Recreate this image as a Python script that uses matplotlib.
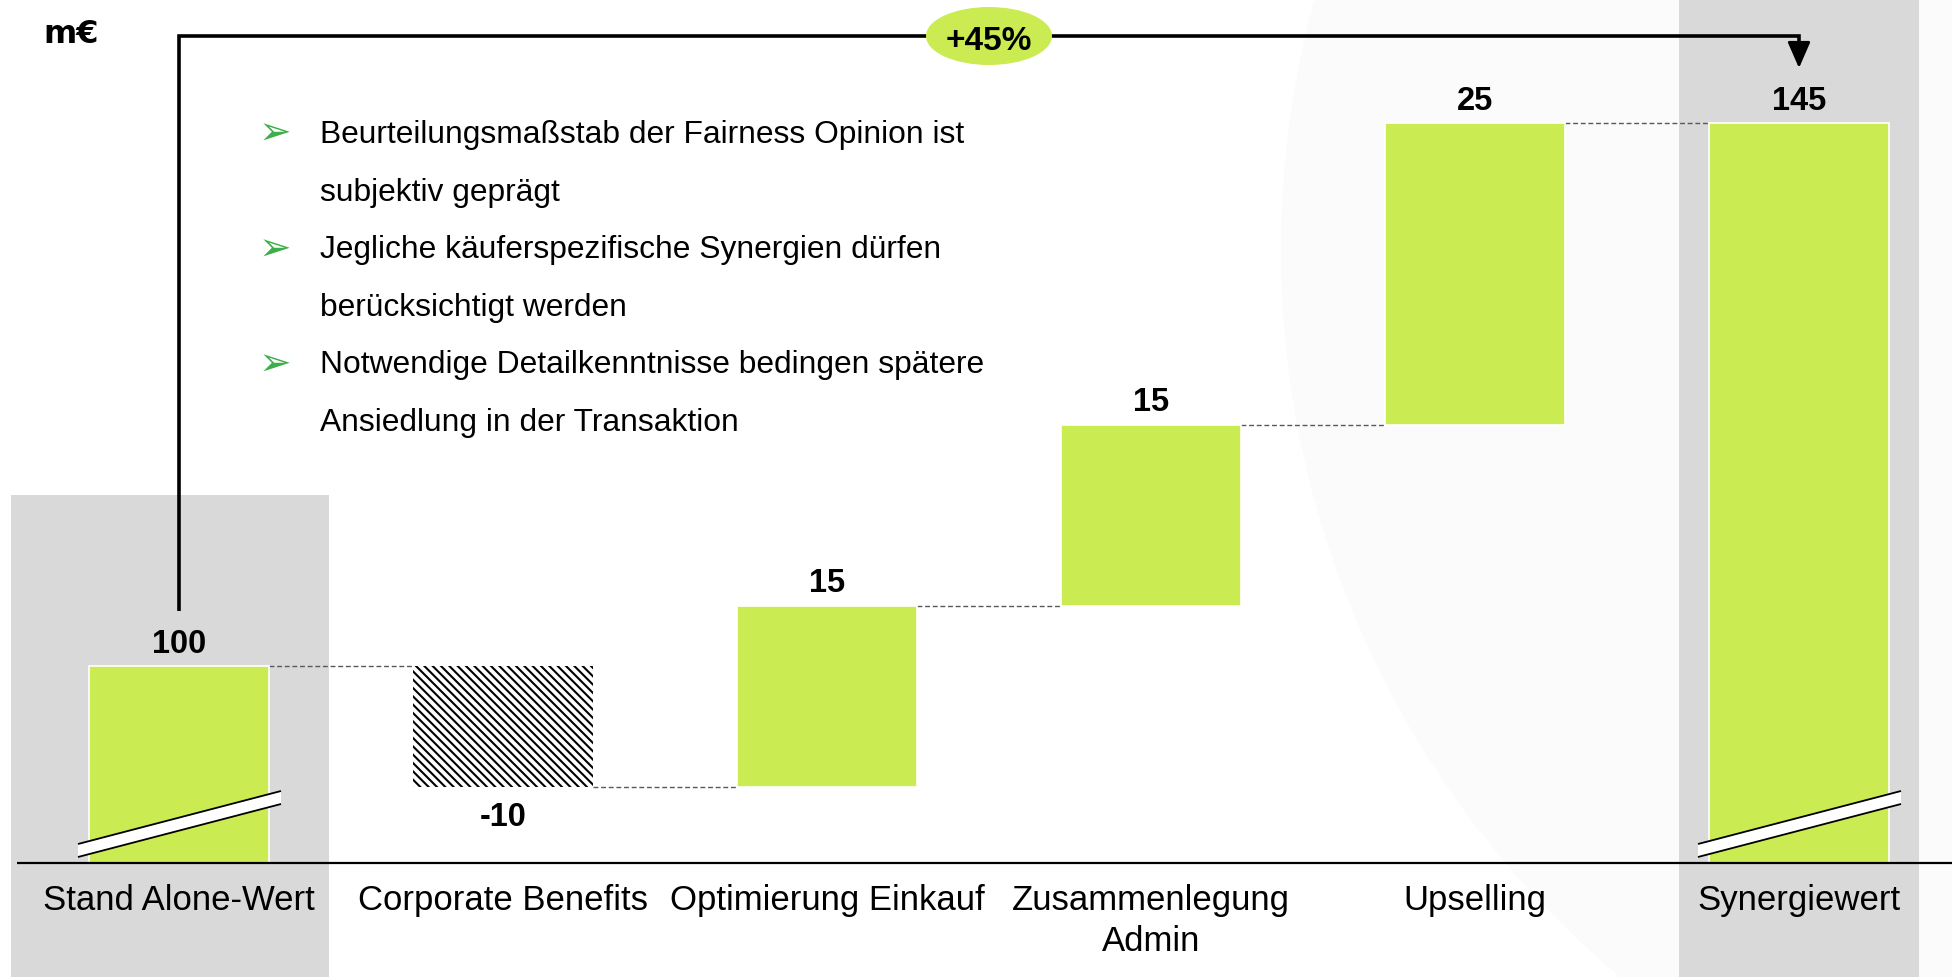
import matplotlib
matplotlib.use("Agg")
import matplotlib.pyplot as plt
from matplotlib.patches import Ellipse, Polygon, Rectangle
from matplotlib import font_manager

# ---------------- data ----------------
categories = ["Stand Alone-Wert", "Corporate Benefits", "Optimierung Einkauf",
              "Zusammenlegung\nAdmin", "Upselling", "Synergiewert"]
values = [100, -10, 15, 15, 25, 145]
is_total = [True, False, False, False, False, True]
value_labels = ["100", "-10", "15", "15", "25", "145"]
growth_label = "+45%"
unit_label = "m€"
bullets = [
    ["Beurteilungsmaßstab der Fairness Opinion ist", "subjektiv geprägt"],
    ["Jegliche käuferspezifische Synergien dürfen", "berücksichtigt werden"],
    ["Notwendige Detailkenntnisse bedingen spätere", "Ansiedlung in der Transaktion"],
]

# ---------------- style / layout ----------------
W, H = 1952, 977
GREEN = "#CBEB52"
GRAY = "#D9D9D9"
BULLET_GREEN = "#3DAE49"
PX_PER_CAT = 324.0
X_CENTER0 = 179.0
PX_PER_UNIT = 12.067
REF_VAL, REF_PX = 100.0, 666.0
BASE_PX = 863.0
BAR_W = 180 / PX_PER_CAT

names = {f.name for f in font_manager.fontManager.ttflist}
MAIN = "Liberation Sans" if "Liberation Sans" in names else "DejaVu Sans"

plt.rcParams["hatch.linewidth"] = 1.5

fig = plt.figure(figsize=(W / 100, H / 100), dpi=100)
fig.patch.set_facecolor("white")
ax = fig.add_axes([0, 0, 1, 1])
x0 = -X_CENTER0 / PX_PER_CAT
x1 = (W - X_CENTER0) / PX_PER_CAT
y1 = REF_VAL + REF_PX / PX_PER_UNIT
y0 = y1 - H / PX_PER_UNIT
ax.set_xlim(x0, x1)
ax.set_ylim(y0, y1)
ax.axis("off")


def px2x(px):
    return x0 + px / PX_PER_CAT


def px2y(py):
    return y1 - py / PX_PER_UNIT


dx = 1 / PX_PER_CAT
dy = 1 / PX_PER_UNIT
base = px2y(BASE_PX)

# faint background circle
ax.add_patch(Ellipse((px2x(2230), px2y(250)), 2 * 949 * dx, 2 * 949 * dy,
                     facecolor="#FBFBFB", edgecolor="none", zorder=0))

# highlight columns
ax.add_patch(Rectangle((px2x(11), y0), 318 * dx, px2y(495) - y0,
                       facecolor=GRAY, edgecolor="none", zorder=1))
ax.add_patch(Rectangle((px2x(1679), y0), 240 * dx, y1 - y0,
                       facecolor=GRAY, edgecolor="none", zorder=1))

# waterfall
bottoms, tops, levels = [], [], []
running = 0
for v, tot in zip(values, is_total):
    if tot:
        bottoms.append(base)
        tops.append(v)
        running = v
    else:
        b, t = sorted([running, running + v])
        bottoms.append(b)
        tops.append(t)
        running += v
    levels.append(running)

xs = list(range(len(categories)))
for i in xs:
    h = tops[i] - bottoms[i]
    if values[i] < 0 and not is_total[i]:
        ax.bar(i, h, bottom=bottoms[i], width=BAR_W, facecolor="white",
               edgecolor="black", linewidth=0, hatch="\\\\\\\\", zorder=3)
    else:
        ax.bar(i, h, bottom=bottoms[i], width=BAR_W, color=GREEN,
               edgecolor="white", linewidth=1.2, zorder=3)

# dashed connectors
for i in range(len(xs) - 1):
    lvl = levels[i]
    ax.plot([i + BAR_W / 2, i + 1 - BAR_W / 2], [lvl, lvl], color="#595959",
            linewidth=1.0, linestyle=(0, (3.5, 2)), zorder=2)

# value labels
for i in xs:
    if values[i] < 0 and not is_total[i]:
        ax.annotate(value_labels[i], (i, bottoms[i]), xytext=(0, -28),
                    textcoords="offset points", ha="center", va="baseline",
                    fontsize=23.5, fontweight="bold", family=MAIN, zorder=5)
    else:
        ax.annotate(value_labels[i], (i, tops[i]), xytext=(0, 9.7),
                    textcoords="offset points", ha="center", va="baseline",
                    fontsize=23.5, fontweight="bold", family=MAIN, zorder=5)

# axis break marks on total bars
for i in xs:
    if is_total[i]:
        pts = [(i - 101 * dx, base + 6 * dy), (i + 102 * dx, base + 59 * dy),
               (i + 102 * dx, base + 72 * dy), (i - 101 * dx, base + 19 * dy)]
        ax.add_patch(Polygon(pts, closed=True, facecolor="white",
                             edgecolor="none", zorder=4))
        ax.plot([pts[0][0], pts[1][0]], [pts[0][1], pts[1][1]], color="black",
                lw=1.3, zorder=4.5, solid_capstyle="butt")
        ax.plot([pts[3][0], pts[2][0]], [pts[3][1], pts[2][1]], color="black",
                lw=1.3, zorder=4.5, solid_capstyle="butt")

# baseline
ax.plot([px2x(17), x1], [base, base], color="black", lw=1.6, zorder=5,
        solid_capstyle="butt")

# category labels
for i, lab in enumerate(categories):
    for k, line in enumerate(lab.split("\n")):
        ax.text(i, px2y(910 + 41 * k), line, ha="center", va="baseline",
                fontsize=25, family=MAIN, color="black", zorder=6)

# growth bracket
top_y = px2y(36)
ax.plot([0, 0, 5, 5], [px2y(611), top_y, top_y, px2y(52)], color="black",
        lw=2.6, solid_joinstyle="miter", solid_capstyle="butt", zorder=5)
ax.annotate("", xy=(5, px2y(68)), xytext=(5, px2y(50)),
            arrowprops=dict(arrowstyle="-|>,head_length=0.8,head_width=0.35",
                            color="black", lw=2.0, shrinkA=0, shrinkB=0,
                            mutation_scale=20), zorder=6)
ax.add_patch(Ellipse((2.5, top_y), 126 * dx, 58 * dy, facecolor=GREEN,
                     edgecolor="none", zorder=6))
ax.text(2.5, px2y(50), growth_label, ha="center", va="baseline", fontsize=24,
        fontweight="bold", family=MAIN, zorder=7)

# unit label
ax.text(px2x(43), px2y(43), unit_label, ha="left", va="baseline", fontsize=23,
        fontweight="bold", family=["DejaVu Sans"], zorder=7)

# bullets
bl = 143.0
for bullet in bullets:
    ax.text(px2x(259), px2y(bl + 2), "➢", ha="left", va="baseline", fontsize=28,
            color=BULLET_GREEN, family=["DejaVu Sans"], zorder=7)
    for line in bullet:
        ax.text(px2x(320), px2y(bl), line, ha="left", va="baseline",
                fontsize=22.9, family=MAIN, color="black", zorder=7)
        bl += 57.6

fig.savefig("out.png", dpi=100, facecolor="white")
